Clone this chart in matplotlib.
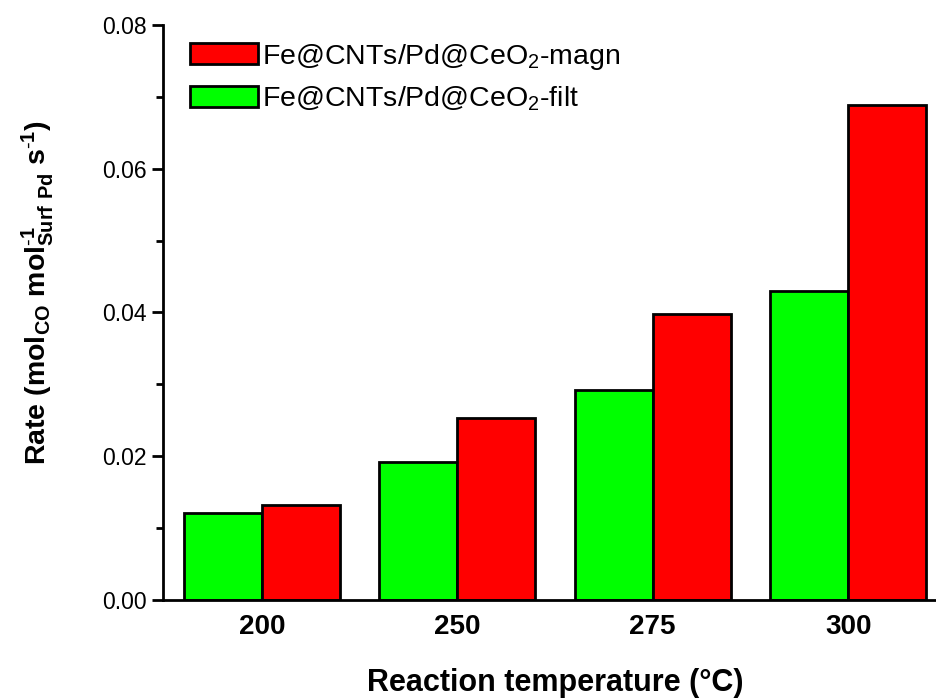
import matplotlib
matplotlib.use('Agg')
import matplotlib.pyplot as plt
import numpy as np

temps = ['200', '250', '275', '300']
rate_filt = [0.0121, 0.0192, 0.0292, 0.0430]
rate_magn = [0.0132, 0.0253, 0.0398, 0.0689]
labels = [r'Fe@CNTs/Pd@CeO$_2$-magn', r'Fe@CNTs/Pd@CeO$_2$-filt']

plt.rcParams['font.family'] = ['Liberation Sans', 'DejaVu Sans']
plt.rcParams['mathtext.fontset'] = 'custom'
plt.rcParams['mathtext.rm'] = 'Liberation Sans'
plt.rcParams['mathtext.bf'] = 'Liberation Sans:bold'
plt.rcParams['mathtext.default'] = 'rm'

fig = plt.figure(figsize=(9.37, 6.98), dpi=100)
ax = fig.add_axes([0.174, 0.1404, 0.8367, 0.8238])

x = np.arange(len(temps))
w = 0.4
b_filt = ax.bar(x - w / 2, rate_filt, w, color='#00ff00', edgecolor='black', linewidth=2)
b_magn = ax.bar(x + w / 2, rate_magn, w, color='#ff0000', edgecolor='black', linewidth=2)

ax.set_xlim(-0.506, 3.506)
ax.set_ylim(0, 0.08)
ax.set_yticks([0.00, 0.02, 0.04, 0.06, 0.08])
ax.set_yticklabels(['0.00', '0.02', '0.04', '0.06', '0.08'])
ax.set_yticks([0.01, 0.03, 0.05, 0.07], minor=True)
ax.set_xticks(x)
ax.set_xticklabels(temps, fontsize=20, fontweight='bold')
ax.tick_params(axis='x', length=0, pad=10)
ax.tick_params(axis='y', which='major', length=8, width=2, labelsize=16.5, pad=4)
ax.tick_params(axis='y', which='minor', length=5, width=2)

for s in ['top', 'right']:
    ax.spines[s].set_visible(False)
for s in ['left', 'bottom']:
    ax.spines[s].set_linewidth(2)

ax.set_xlabel('Reaction temperature (°C)', fontsize=22, fontweight='bold', labelpad=20)
ax.set_ylabel(r'Rate (mol$_{\mathbf{CO}}$ mol$^{\mathbf{\text{-}1}}_{\mathbf{Surf\ Pd}}$ s$^{\mathbf{\text{-}1}}$)',
              fontsize=20.5, fontweight='bold', labelpad=33, y=0.535)

ax.legend([b_magn, b_filt], labels, loc='upper left', bbox_to_anchor=(0.034, 0.971),
          frameon=False, fontsize=20.5, handlelength=2.4, handleheight=0.77,
          handletextpad=0.15, labelspacing=0.45, borderaxespad=0, borderpad=0)

fig.savefig('out.png', dpi=100)
